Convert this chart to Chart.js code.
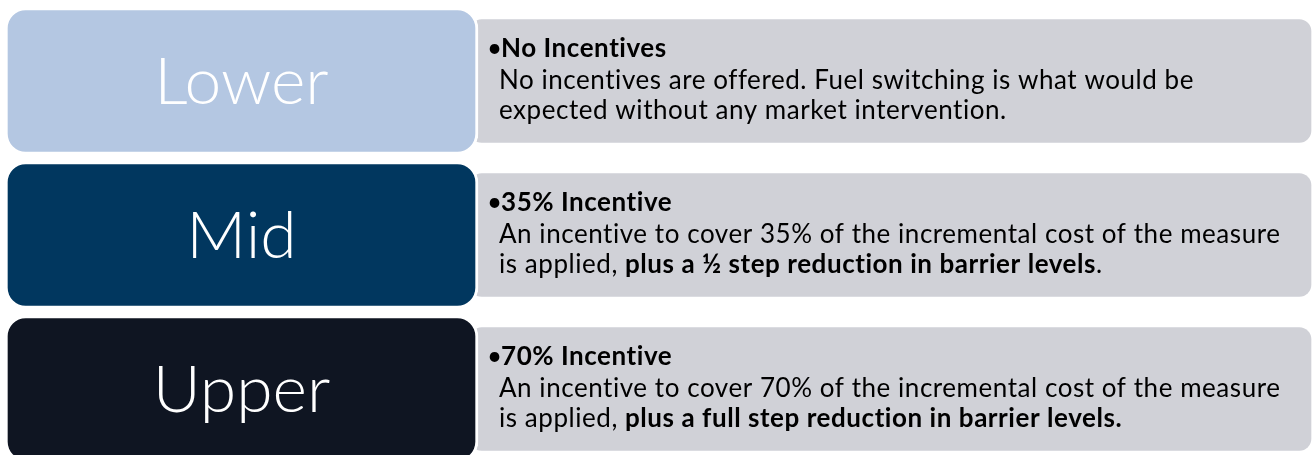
<!DOCTYPE html>
<html>
<head>
<meta charset="utf-8">
<script src="https://cdn.jsdelivr.net/npm/chart.js@4.4.1/dist/chart.umd.min.js"></script>
<style>
  html, body { margin: 0; padding: 0; background: #ffffff; overflow: hidden; }
  #wrap { width: 1312px; height: 466px; }
</style>
</head>
<body>
<div id="wrap"><canvas id="c" width="1312" height="466"></canvas></div>
<script>
// ---- data ----
const categories = ['Lower', 'Mid', 'Upper'];
const incentivePct = [0, 35, 70];
const headings = ['No Incentives', '35% Incentive', '70% Incentive'];
const descLine1 = [
  [['No incentives are offered. Fuel switching is what would be', false]],
  [['An incentive to cover 35% of the incremental cost of the measure', false]],
  [['An incentive to cover 70% of the incremental cost of the measure', false]]
];
const descLine2 = [
  [['expected without any market intervention.', false]],
  [['is applied, ', false], ['plus a \u00BD step reduction in barrier levels', true], ['.', false]],
  [['is applied, ', false], ['plus a full step reduction in barrier levels.', true]]
];

// ---- layout / style ----
const boxColors = ['#B4C7E2', '#01375F', '#0F1522'];
const greyColor = '#D0D1D7';
const labelColumn = [5, 478];
const textColumn = [470, 1311];
const FONT = 'Lato, "Open Sans", sans-serif';

const textPlugin = {
  id: 'diagramText',
  afterDatasetsDraw(chart) {
    const ctx = chart.ctx;
    const meta = chart.getDatasetMeta(1);
    meta.data.forEach((bar, i) => {
      const left = Math.min(bar.x, bar.base);
      const right = Math.max(bar.x, bar.base);
      const cx = (left + right) / 2;
      const cy = bar.y;
      ctx.save();
      // big label
      ctx.fillStyle = '#ffffff';
      ctx.font = '300 66px ' + FONT;
      ctx.textAlign = 'center';
      ctx.textBaseline = 'alphabetic';
      ctx.letterSpacing = '0px';
      ctx.fillText(categories[i], cx, cy + 23);
      // right text
      ctx.textAlign = 'left';
      ctx.fillStyle = '#000000';
      ctx.letterSpacing = '0.55px';
      const tx = right + 9;
      ctx.font = '400 26px ' + FONT;
      ctx.fillText('\u2022', tx, cy - 24);
      ctx.font = '700 26px ' + FONT;
      ctx.fillText(headings[i], tx + 14, cy - 24);
      const drawRuns = (runs, y) => {
        let x = tx + 12;
        runs.forEach(([t, b]) => {
          ctx.font = (b ? '700' : '400') + ' 26px ' + FONT;
          ctx.fillText(t, x, y);
          x += ctx.measureText(t).width;
        });
      };
      drawRuns(descLine1[i], cy + 7.5);
      drawRuns(descLine2[i], cy + 37.5);
      ctx.restore();
    });
  }
};

new Chart(document.getElementById('c'), {
  type: 'bar',
  data: {
    labels: categories,
    datasets: [
      {
        label: 'Description',
        data: categories.map(() => textColumn),
        backgroundColor: greyColor,
        borderWidth: 0,
        borderSkipped: false,
        borderRadius: 12,
        barThickness: 123,
        grouped: false,
        order: 2
      },
      {
        label: 'Scenario',
        data: categories.map(() => labelColumn),
        backgroundColor: boxColors,
        borderColor: '#ffffff',
        borderWidth: 3,
        borderSkipped: false,
        borderRadius: 21,
        barThickness: 147,
        grouped: false,
        order: 1
      }
    ]
  },
  options: {
    indexAxis: 'y',
    responsive: false,
    devicePixelRatio: 1,
    animation: false,
    layout: { padding: { top: 4, bottom: 0, left: 0, right: 0 } },
    plugins: { legend: { display: false }, tooltip: { enabled: false } },
    scales: {
      x: { type: 'linear', display: false, min: 0, max: 1312 },
      y: { display: false }
    }
  },
  plugins: [textPlugin]
});
</script>
</body>
</html>
